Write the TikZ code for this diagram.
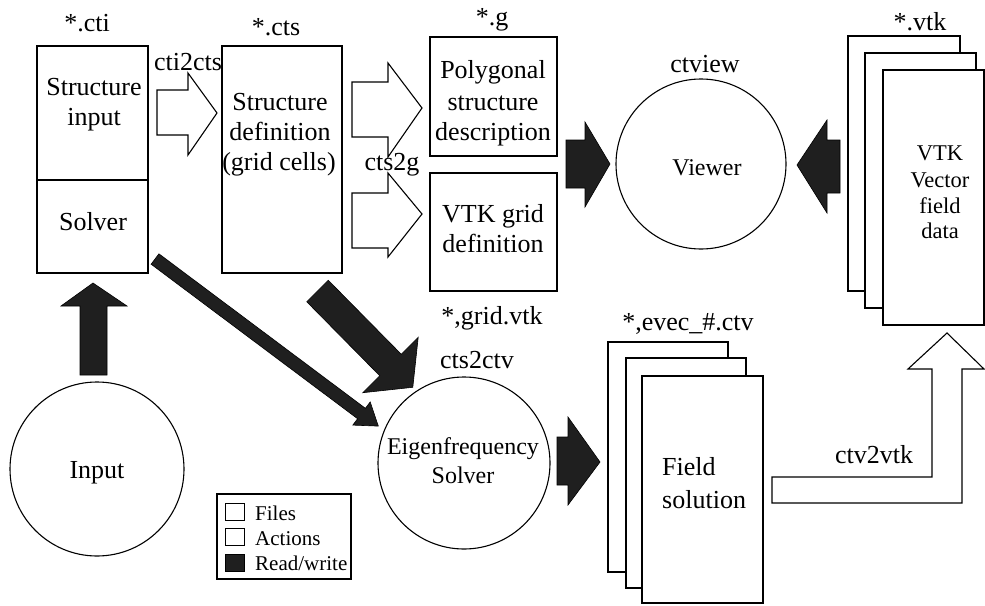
\documentclass[tikz,border=0pt]{standalone}
\usepackage{fontspec}
\setmainfont{Liberation Serif}
\begin{document}
\begin{tikzpicture}[x=1pt,y=-1pt,
  box/.style={draw=black, fill=white, line width=1.1pt, rectangle, inner sep=0pt},
  act/.style={draw=black, fill=white, line width=1.1pt, circle, inner sep=0pt},
  rw/.style={fill=black!88, draw=black, line width=0.6pt, line join=miter},
  wa/.style={draw=black, fill=white, line width=1.1pt, line join=miter},
  lbl/.style={font=\fontsize{26}{30}\selectfont, anchor=base, inner sep=0pt},
  lblm/.style={font=\fontsize{24}{28}\selectfont, anchor=base, inner sep=0pt},
  lbls/.style={font=\fontsize{22.5}{26}\selectfont, anchor=base, inner sep=0pt},
  lglbl/.style={font=\fontsize{21}{24}\selectfont, anchor=base west, inner sep=0pt}]
\useasboundingbox (0,0) rectangle (985,605);

% ---- files (boxes) ----
\node[box, minimum width=111pt, minimum height=227pt] (cti) at (92.5,159.5) {};
\coordinate (divy) at (0,180);
\draw[line width=1.1pt] (cti.west |- divy) -- (cti.east |- divy);
\node[box, minimum width=120pt, minimum height=227pt] (cts) at (282,159.5) {};
\node[box, minimum width=127pt, minimum height=119pt] (poly) at (493.5,96.5) {};
\node[box, minimum width=127pt, minimum height=118pt] (vgrid) at (493.5,232) {};

% VTK pages
\node[box, minimum width=112pt, minimum height=255pt] (vtk3) at (904,163.5) {};
\node[box, minimum width=111pt, minimum height=255pt] (vtk2) at (920.5,180.5) {};
\node[box, minimum width=101pt, minimum height=255pt] (vtk1) at (933.5,197.5) {};

% Field solution pages
\node[box, minimum width=120pt, minimum height=230pt] (fs3) at (668,457) {};
\node[box, minimum width=120pt, minimum height=230pt] (fs2) at (686,473) {};
\node[box, minimum width=121pt, minimum height=227pt] (fs1) at (702.5,489.5) {};

% ---- actions (circles) ----
\node[act, minimum size=170pt] (viewer) at (701,164) {};
\node[act, minimum size=172pt] (eigen) at (464,463) {};
\node[act, minimum size=174pt] (input) at (97,469) {};

% ---- white (action) arrows ----
\draw[wa] (157,90) -- (188,90) -- (188,73) -- (217,113) -- (188,155) -- (188,135) -- (157,135) -- cycle;
\draw[wa] (352,82) -- (388,82) -- (388,63) -- (422,108) -- (388,157) -- (388,137) -- (352,137) -- cycle;
\draw[wa] (352,193) -- (388,193) -- (388,173) -- (422,214) -- (388,257) -- (388,248) -- (352,248) -- cycle;
\draw[wa] (772,477) -- (932,477) -- (932,369) -- (908,369) -- (947,333) -- (984,369) -- (962,369) -- (962,503) -- (772,503) -- cycle;

% ---- black (read/write) arrows ----
\draw[rw] (566,140) -- (585,140) -- (585,122) -- (610,164) -- (585,207) -- (585,188) -- (566,188) -- cycle;
\draw[rw] (840,140) -- (827,140) -- (827,120) -- (797,165) -- (827,213) -- (827,193) -- (840,193) -- cycle;
\draw[rw] (80,375) -- (80,306) -- (61,306) -- (93,283) -- (127,306) -- (107,306) -- (107,375) -- cycle;
\draw[rw] (557,437) -- (568,437) -- (568,417) -- (600,462) -- (568,505) -- (568,485) -- (557,485) -- cycle;
\draw[rw] (158.9,253.8) -- (365.4,408.3) -- (370.2,401.9) -- (378.3,426.1) -- (352.8,425.1) -- (357.6,418.7) -- (151.1,264.2) -- cycle;
\draw[rw] (328.25,280.25) -- (401.25,354.25) -- (418.2,337.3) -- (412.8,387.3) -- (362.8,392.7) -- (379.75,375.75) -- (306.75,301.75) -- cycle;

% ---- labels ----
\node[lbl] (tcti) at (87,31) {*.cti};
\node[lbl] (tcts) at (276,35) {*.cts};
\node[lbl] (tg) at (492,25) {*.g};
\node[lbl] (tvtk) at (920,30) {*.vtk};
\node[lbl] (tcti2cts) at (188,70) {cti2cts};
\node[lbl] (tcts2g) at (392,170) {cts2g};
\node[lbl] (tctview) at (705,72) {ctview};
\node[lbl] (tgrid) at (492,324) {*,grid.vtk};
\node[lbl] (tcts2ctv) at (477,368) {cts2ctv};
\node[lbl] (tevec) at (688,330) {*,evec\_\#.ctv};
\node[lbl] (tctv2vtk) at (874,463) {ctv2vtk};

% ---- texts inside ----
\node[lbl] (si1) at (94,95) {Structure};
\node[lbl] (si2) at (94,125) {input};
\node[lbl] (sol) at (93,230) {Solver};
\node[lbl] (sd1) at (280,110) {Structure};
\node[lbl] (sd2) at (280,140) {definition};
\node[lbl] (sd3) at (279,170) {(grid cells)};
\node[lbl] (ps1) at (493,78) {Polygonal};
\node[lbl] (ps2) at (493,110) {structure};
\node[lbl] (ps3) at (493,140) {description};
\node[lbl] (vg1) at (493,222) {VTK grid};
\node[lbl] (vg2) at (493,252) {definition};
\node[lblm] (tviewer) at (707,175) {Viewer};
\node[lbls] (vd1) at (940,160) {VTK};
\node[lbls] (vd2) at (940,187) {Vector};
\node[lbls] (vd3) at (940,213) {field};
\node[lbls] (vd4) at (940,238) {data};
\node[lblm] (ef1) at (463,454) {Eigenfrequency};
\node[lblm] (ef2) at (463,483) {Solver};
\node[lbl] (tinput) at (97,478) {Input};
\node[lbl, anchor=base west] (fsl1) at (662,475) {Field};
\node[lbl, anchor=base west] (fsl2) at (662,508) {solution};

% ---- legend ----
\node[draw=black, line width=1.1pt, fill=white, minimum width=134pt, minimum height=85pt, inner sep=0pt] (legend) at (284,536.5) {};
\node[draw=black, line width=0.8pt, fill=white, minimum width=19pt, minimum height=17pt, inner sep=0pt] (lgf) at (234.5,511.5) {};
\node[draw=black, line width=0.8pt, fill=white, minimum width=19pt, minimum height=17pt, inner sep=0pt] (lga) at (234.5,537) {};
\node[draw=black, line width=0.8pt, fill=black!88, minimum width=19pt, minimum height=17pt, inner sep=0pt] (lgr) at (234.5,563) {};
\node[lglbl] (lgt1) at (255,520) {Files};
\node[lglbl] (lgt2) at (255,545) {Actions};
\node[lglbl] (lgt3) at (255,570) {Read/write};
\end{tikzpicture}
\end{document}
